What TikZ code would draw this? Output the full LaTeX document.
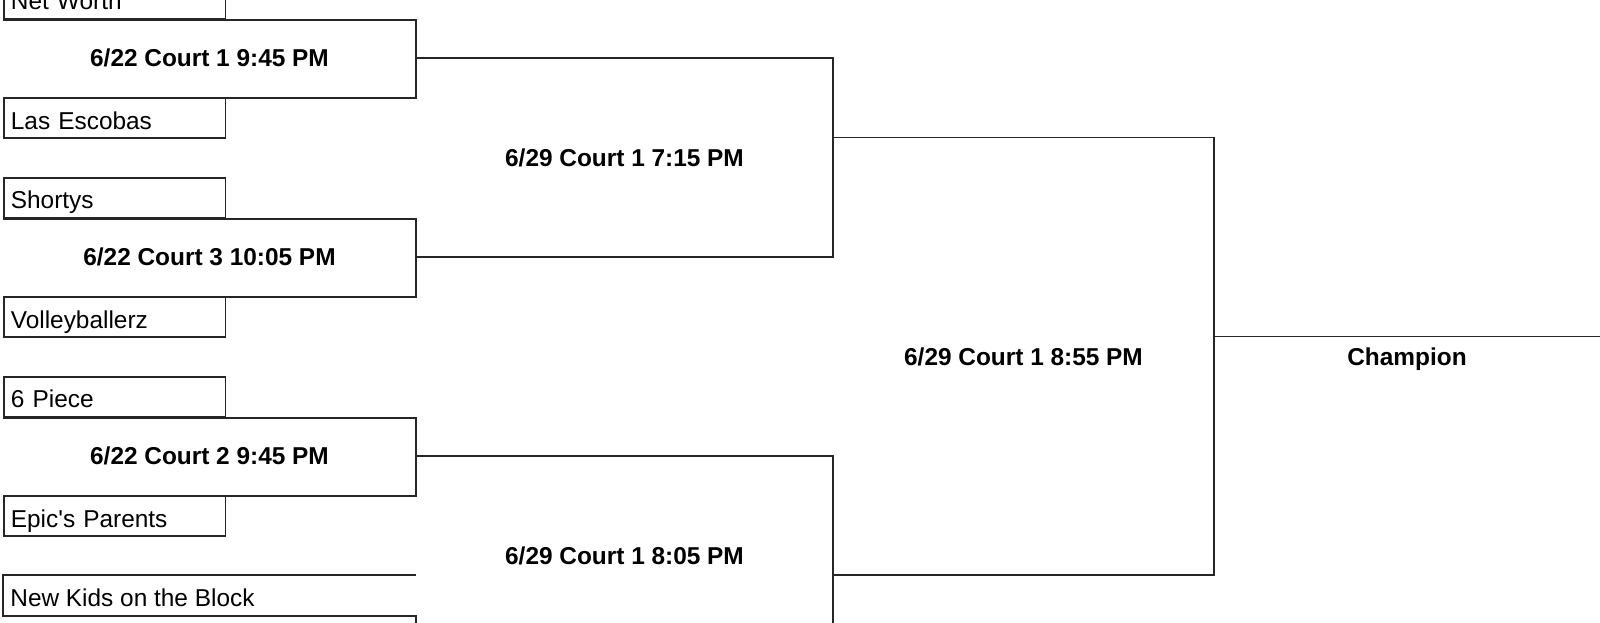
\documentclass[tikz,border=0pt]{standalone}
\usepackage{fontspec}
\setmainfont{Liberation Sans}
\usetikzlibrary{positioning}

\begin{document}
\begin{tikzpicture}[
        x=0.5pt, y=-9.95pt,
        font=\fontsize{12.2}{14.6}\selectfont,
        bracket/.style={draw=black!85, line width=0.9pt},
        teambox/.style={rectangle, draw=black!85, line width=0.9pt, anchor=north west, text width=103.75pt, minimum height=19.9pt, inner xsep=3.5pt, inner ysep=0pt, text height=10.7pt, text depth=0pt, align=left},
        teamname/.style={rectangle, anchor=north west, minimum height=19.9pt, inner xsep=3.5pt, inner ysep=0pt, text height=10.7pt, text depth=0pt},
        gamelabel/.style={font=\fontsize{12.2}{14.6}\selectfont\bfseries, text height=8.7pt, text depth=0pt}
    ]
    \useasboundingbox (0,-0.905) rectangle (1600,30.40);
    \clip (0,-0.905) rectangle (1600,30.40);

    % Spalten-Enden
    \coordinate (g1e) at (416,2);
    \coordinate (g2e) at (416,12);
    \coordinate (g3e) at (416,22);
    \coordinate (s1e) at (833,6);
    \coordinate (s2e) at (833,28);
    \coordinate (fe) at (1214,16);
    \coordinate (champend) at (1600,16);
    \coordinate (cut) at (0,31);

    % Mannschaften
    \foreach \name/\team/\top in {nw/Net Worth/-2, le/Las Escobas/4, sh/Shortys/8, vb/Volleyballerz/14, sp/6 Piece/18, ep/{Epic\textquotesingle s Parents}/24}
        \node[teambox] (\name) at (3,\top) {\team};
    \node[teamname] (nk) at (3,28) {New Kids on the Block};

    % Runde 1
    \draw[bracket] (nw.south west) -- (nw.south west -| g1e) -- (le.north west -| g1e) -- (le.north west);
    \draw[bracket] (sh.south west) -- (sh.south west -| g2e) -- (vb.north west -| g2e) -- (vb.north west);
    \draw[bracket] (sp.south west) -- (sp.south west -| g3e) -- (ep.north west -| g3e) -- (ep.north west);
    \draw[bracket] (nk.north -| g3e) -- (nk.north west) -- (nk.south west) -- (nk.south -| g3e) -- (cut -| g3e);

    % Runde 2
    \draw[bracket] (g1e) -- (g1e -| s1e) -- (g2e -| s1e) -- (g2e);
    \draw[bracket] (g3e) -- (g3e -| s2e) -- (cut -| s2e);

    % Finale
    \draw[bracket] (s1e) -- (s1e -| fe) -- (s2e -| fe) -- (s2e);
    \draw[bracket] (fe) -- (champend);

    % Spiele
    \node[gamelabel] (g1) at (209.5,2) {6/22 Court 1 9:45 PM};
    \node[gamelabel] (g2) at (209.5,12) {6/22 Court 3 10:05 PM};
    \node[gamelabel] (g3) at (209.5,22) {6/22 Court 2 9:45 PM};
    \node[gamelabel] (s1) at (624.5,7) {6/29 Court 1 7:15 PM};
    \node[gamelabel] (s2) at (624.5,27) {6/29 Court 1 8:05 PM};
    \node[gamelabel] (f) at (1023.5,17) {6/29 Court 1 8:55 PM};
    \node[gamelabel] (champ) at (1407,17) {Champion};

\end{tikzpicture}
\end{document}
